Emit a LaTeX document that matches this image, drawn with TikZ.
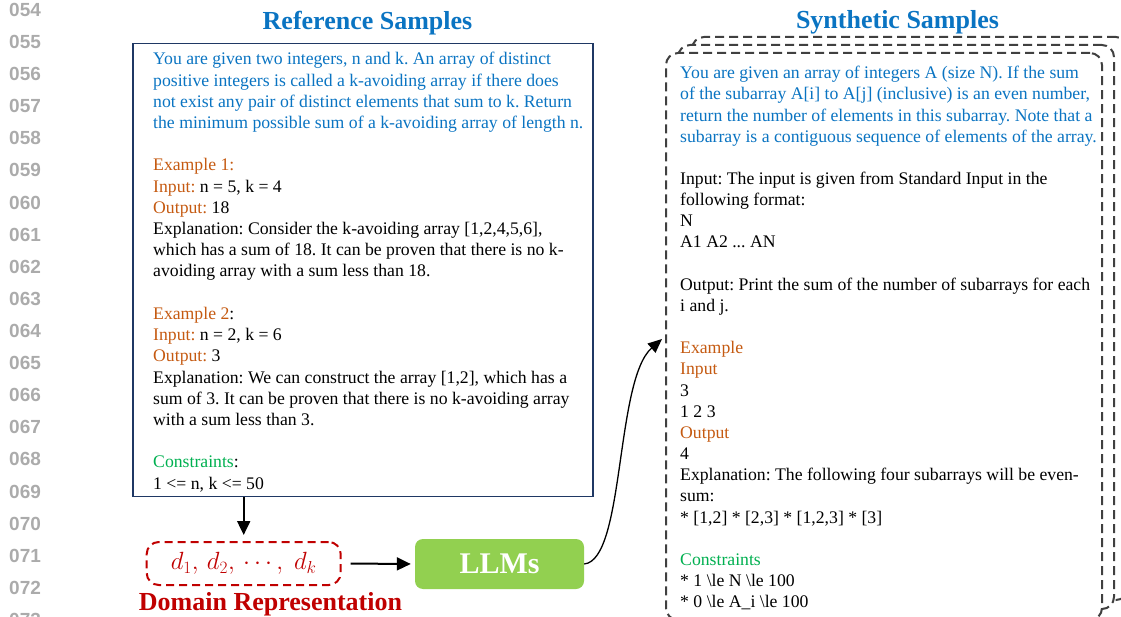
\documentclass[tikz,border=0pt]{standalone}
\usepackage{fontspec}
\setmainfont{Liberation Serif}
\newfontfamily\numfont{Liberation Sans}
\usetikzlibrary{arrows.meta,calc}
\definecolor{tblue}{HTML}{0A74C2}
\definecolor{torange}{HTML}{C55A11}
\definecolor{tgreen}{HTML}{00B050}
\definecolor{tred}{HTML}{C00000}
\definecolor{navy}{HTML}{1F3864}
\definecolor{dgray}{HTML}{404040}
\definecolor{llmgreen}{HTML}{92D050}
\definecolor{lngray}{HTML}{ABABAB}
\begin{document}
\frenchspacing
\begin{tikzpicture}[x=1pt,y=-1pt,
  txt/.style={anchor=base west, inner sep=0pt, font=\fontsize{17.7}{21.2}\selectfont},
  lnum/.style={anchor=base west, inner sep=0pt, text=lngray, font=\numfont\bfseries\fontsize{19}{22}\selectfont},
  titl/.style={anchor=base, inner sep=0pt, text=tblue, font=\bfseries\fontsize{26}{30}\selectfont},
  stackbox/.style={draw=dgray, fill=white, line width=2pt, dash pattern=on 9pt off 5pt, rounded corners=12pt, minimum width=436pt, inner sep=0pt},
  arr/.style={-{Triangle[length=14pt,width=13pt]}, line width=2pt, black}]
\useasboundingbox (0,0) rectangle (1121,617);
\clip (0,0) rectangle (1121,617);

% line numbers
\foreach \i in {0,...,19}{
  \pgfmathtruncatemacro{\num}{54+\i}
  \node[lnum] (ln\i) at (9,{16.5+\i*32.1}) {0\num};
}

% titles
\node[titl] (reftitle) at (367.5,29.5) {Reference Samples};
\node[titl] (syntitle) at (897.5,29) {Synthetic Samples};

% reference box
\node[draw=navy, line width=1.8pt, minimum width=460pt, minimum height=453pt, inner sep=0pt] (ref) at (363.3,270) {};

\node[txt, text=tblue] (r0) at (153,{65+0*21.2}) {You are given two integers, n and k. An array of distinct};
\node[txt, text=tblue] (r1) at (153,{65+1*21.2}) {positive integers is called a k-avoiding array if there does};
\node[txt, text=tblue] (r2) at (153,{65+2*21.2}) {not exist any pair of distinct elements that sum to k. Return};
\node[txt, text=tblue] (r3) at (153,{65+3*21.2}) {the minimum possible sum of a k-avoiding array of length n.};
\node[txt, text=torange] (r5) at (153,{65+5*21.2}) {Example 1:};
\node[txt] (r6) at (153,{65+6*21.2}) {\textcolor{torange}{Input:} n = 5, k = 4};
\node[txt] (r7) at (153,{65+7*21.2}) {\textcolor{torange}{Output:} 18};
\node[txt] (r8) at (153,{65+8*21.2}) {Explanation: Consider the k-avoiding array [1,2,4,5,6],};
\node[txt] (r9) at (153,{65+9*21.2}) {which has a sum of 18. It can be proven that there is no k-};
\node[txt] (r10) at (153,{65+10*21.2}) {avoiding array with a sum less than 18.};
\node[txt] (r12) at (153,{65+12*21.2}) {\textcolor{torange}{Example 2}:};
\node[txt] (r13) at (153,{65+13*21.2}) {\textcolor{torange}{Input:} n = 2, k = 6};
\node[txt] (r14) at (153,{65+14*21.2}) {\textcolor{torange}{Output:} 3};
\node[txt] (r15) at (153,{65+15*21.2}) {Explanation: We can construct the array [1,2], which has a};
\node[txt] (r16) at (153,{65+16*21.2}) {sum of 3. It can be proven that there is no k-avoiding array};
\node[txt] (r17) at (153,{65+17*21.2}) {with a sum less than 3.};
\node[txt] (r19) at (153,{65+19*21.2}) {\textcolor{tgreen}{Constraints}:};
\node[txt] (r20) at (153,{65+20*21.2}) {1 <= n, k <= 50};

% domain representation
\node[draw=tred, line width=2pt, dash pattern=on 8pt off 5pt, rounded corners=12pt,
      minimum width=194pt, minimum height=43pt, inner sep=0pt, text=tred,
      font=\fontsize{23}{27}\selectfont] (dom) at (243.7,563.5) {$d_1,\,d_2,\,\cdots,\;d_k$};
\node[anchor=base, inner sep=0pt, text=tred, font=\bfseries\fontsize{26}{30}\selectfont] (domlabel) at (270.5,610) {Domain Representation};

% LLMs
\node[fill=llmgreen, rounded corners=8pt, minimum width=169pt, minimum height=50pt, inner sep=0pt,
      text=white, font=\bfseries\fontsize{30}{34}\selectfont] (llm) at (499.5,564) {LLMs};

% synthetic stacked boxes
\node[stackbox, minimum height=563pt] (sback) at (910,318.5) {};
\node[stackbox, minimum height=564pt] (smid) at (896,327) {};
\node[stackbox, minimum height=567pt] (sin) at (884,336.5) {};

\node[txt, text=tblue] (s0) at (680,{78.7+0*21.16}) {You are given an array of integers A (size N). If the sum};
\node[txt, text=tblue] (s1) at (680,{78.7+1*21.16}) {of the subarray A[i] to A[j] (inclusive) is an even number,};
\node[txt, text=tblue] (s2) at (680,{78.7+2*21.16}) {return the number of elements in this subarray. Note that a};
\node[txt, text=tblue] (s3) at (680,{78.7+3*21.16}) {subarray is a contiguous sequence of elements of the array.};
\node[txt] (s5) at (680,{78.7+5*21.16}) {Input: The input is given from Standard Input in the};
\node[txt] (s6) at (680,{78.7+6*21.16}) {following format:};
\node[txt] (s7) at (680,{78.7+7*21.16}) {N};
\node[txt] (s8) at (680,{78.7+8*21.16}) {A1 A2 ... AN};
\node[txt] (s10) at (680,{78.7+10*21.16}) {Output: Print the sum of the number of subarrays for each};
\node[txt] (s11) at (680,{78.7+11*21.16}) {i and j.};
\node[txt, text=torange] (s13) at (680,{78.7+13*21.16}) {Example};
\node[txt, text=torange] (s14) at (680,{78.7+14*21.16}) {Input};
\node[txt] (s15) at (680,{78.7+15*21.16}) {3};
\node[txt] (s16) at (680,{78.7+16*21.16}) {1 2 3};
\node[txt, text=torange] (s17) at (680,{78.7+17*21.16}) {Output};
\node[txt] (s18) at (680,{78.7+18*21.16}) {4};
\node[txt] (s19) at (680,{78.7+19*21.16}) {Explanation: The following four subarrays will be even-};
\node[txt] (s20) at (680,{78.7+20*21.16}) {sum:};
\node[txt] (s21) at (680,{78.7+21*21.16}) {* [1,2] * [2,3] * [1,2,3] * [3]};
\node[txt, text=tgreen] (s23) at (680,{78.7+23*21.16}) {Constraints};
\node[txt] (s24) at (680,{78.7+24*21.16}) {* 1 \textbackslash le N \textbackslash le 100};
\node[txt] (s25) at (680,{78.7+25*21.16}) {* 0 \textbackslash le A\_i \textbackslash le 100};

% connectors
\draw[arr] (dom.north |- ref.south) -- ([yshift=6pt]dom.north);
\draw[arr, shorten <=9pt, shorten >=4pt] (dom.east) -- (llm.west);
\coordinate (tip) at (662,339);
\draw[-{Triangle[length=14pt,width=12pt]}, line width=1.3pt] (llm.east) .. controls (625,560) and (615,380) .. (tip);
\end{tikzpicture}
\end{document}
